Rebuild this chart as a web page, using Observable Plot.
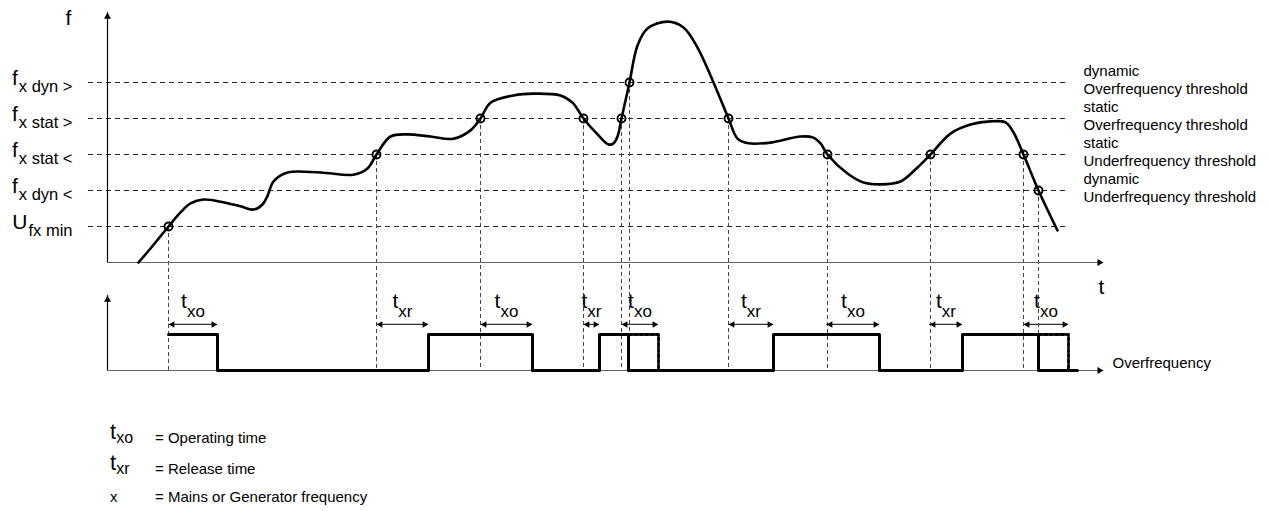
<!DOCTYPE html>
<html>
<head>
<meta charset="utf-8">
<script src="https://cdn.jsdelivr.net/npm/d3@7"></script>
<script src="https://cdn.jsdelivr.net/npm/@observablehq/plot@0.6"></script>
<style>
html,body{margin:0;padding:0;background:#fff;}
#wrap{position:relative;width:1268px;height:511px;font-family:"Liberation Sans",Arial,sans-serif;color:#000;overflow:hidden;}
#wrap svg{display:block;}
#legend{position:absolute;left:110px;top:421px;}
.row{height:30.5px;line-height:30.5px;font-size:15px;white-space:nowrap;display:flex;align-items:baseline;}
.sym{display:inline-block;width:45px;}
.sym .m{font-size:22px;position:relative;top:-4px;}
.sym .s{font-size:16px;}
</style>
</head>
<body>
<div id="wrap"><div id="chart"></div><div id="legend"></div></div>
<script>
// ---------------- data (time t, frequency level f) ----------------
const thresholdLevel = [5, 4, 3, 2, 1];
const thresholdSymbol = ["f", "f", "f", "f", "U"];
const thresholdSubscript = ["x dyn >", "x stat >", "x stat <", "x dyn <", "fx min"];
const thresholdNote = [
  "dynamic\nOverfrequency threshold",
  "static\nOverfrequency threshold",
  "static\nUnderfrequency threshold",
  "dynamic\nUnderfrequency threshold",
  ""
];
const thresholdExtent = [-19, 961];

// frequency trace f(t)
const curveT = [31,43,61,73,83,96,113,133,146,155,160,166,180,213,246,260,269,283,300,323,346,363,373,383,406,426,453,465,476,491,501,506,510,514,522,530,540,560,576,590,606,621,630,641,663,693,706,713,720,740,756,773,793,810,823,843,863,883,898,906,916,931,950];
const curveF = [0,0.39,1,1.39,1.64,1.75,1.69,1.56,1.47,1.61,1.85,2.25,2.5,2.5,2.44,2.61,3,3.5,3.56,3.5,3.44,3.67,4,4.44,4.64,4.69,4.64,4.44,4,3.53,3.28,3.31,3.5,4,5,6.03,6.5,6.69,6.53,5.97,5,4,3.44,3.31,3.33,3.5,3.47,3.31,3,2.47,2.22,2.17,2.25,2.64,3,3.58,3.83,3.92,3.89,3.61,3,2,0.89];

// threshold crossings (circles)
const crossT = [61, 269, 373, 476, 514, 522, 621, 720, 823, 916, 931];
const crossF = [1, 3, 4, 4, 4, 5, 4, 3, 3, 3, 2];

// overfrequency output signal (state changes)
const signalT = [61, 110, 321, 425, 492, 521, 666, 772, 855, 931, 970];
const signalS = [1, 0, 1, 0, 1, 0, 1, 0, 1, 0, 0];

// operating time that was cut short (dashed)
const pendingStart = [521, 931];
const pendingEnd = [551, 961];

// timing spans
const spanStart = [61, 269, 373, 476, 514, 621, 719, 822, 916];
const spanEnd = [110, 321, 425, 492, 551, 666, 772, 855, 961];
const spanSub = ["xo", "xr", "xo", "xr", "xo", "xr", "xo", "xr", "xo"];

// axes extents
const timeAxis = [0, 996];
const freqAxis = [0, 6.94];
const stateAxis = [-3, -0.92];
const stateLow = -3, stateHigh = -2, spanLevel = -1.72;

// legend
const legendSymbol = ["t", "t", "x"];
const legendSub = ["xo", "xr", ""];
const legendText = ["= Operating time", "= Release time", "= Mains or Generator frequency"];

// ---------------- build ----------------
const FONT = '"Liberation Sans", Arial, sans-serif';
const ctx = document.createElement("canvas").getContext("2d");
function tw(s, size) { ctx.font = `${size}px "Liberation Sans", Arial, sans-serif`; return ctx.measureText(s).width; }

const thresholds = thresholdLevel.map((f, i) => ({f, sym: thresholdSymbol[i], sub: thresholdSubscript[i], note: thresholdNote[i]}));
const curve = curveT.map((t, i) => ({t, f: curveF[i]}));
const crossings = crossT.map((t, i) => ({t, f: crossF[i]}));
const signal = signalT.map((t, i) => ({t, s: signalS[i]}));
const pending = pendingStart.flatMap((t, i) => [
  {id: i, t, y: stateHigh}, {id: i, t: pendingEnd[i], y: stateHigh}, {id: i, t: pendingEnd[i], y: stateLow}
]);
const spans = spanStart.map((s, i) => {
  const mid = (s + spanEnd[i]) / 2;
  const wMain = tw("t", 21), wSub = tw(spanSub[i], 17);
  return {start: s, end: spanEnd[i], sub: spanSub[i], x0: mid - (wMain + wSub) / 2, x1: mid - (wMain + wSub) / 2 + wMain};
});

const SUB_END = -35;
const chart = Plot.plot({
  width: 1268,
  height: 410,
  x: {domain: [0, 1000], range: [107, 1107], axis: null},
  y: {domain: [-4, 7.25], range: [406, 1], axis: null},
  style: {fontFamily: FONT, color: "#000", background: "#fff", overflow: "visible"},
  marks: [
    // threshold lines
    Plot.ruleY(thresholds, {y: "f", x1: thresholdExtent[0], x2: thresholdExtent[1], stroke: "#222", strokeWidth: 1, strokeDasharray: "5,4"}),
    // vertical guides from crossings
    Plot.ruleX(crossings, {x: "t", y1: "f", y2: stateLow, stroke: "#444", strokeWidth: 1, strokeDasharray: "4,3"}),
    // upper axes
    Plot.ruleX([timeAxis[0]], {y1: freqAxis[0], y2: freqAxis[1], stroke: "#000", strokeWidth: 1.2}),
    Plot.ruleY([freqAxis[0]], {x1: timeAxis[0], x2: timeAxis[1], stroke: "#666", strokeWidth: 1.2}),
    Plot.dot([{t: timeAxis[0], f: freqAxis[1]}], {x: "t", y: "f", symbol: "triangle", r: 2.6, fill: "#000", dy: 4}),
    Plot.dot([{t: timeAxis[1], f: freqAxis[0]}], {x: "t", y: "f", symbol: "triangle", r: 2.6, fill: "#000", rotate: 90, dx: -4}),
    // lower axes
    Plot.ruleX([timeAxis[0]], {y1: stateAxis[0], y2: stateAxis[1], stroke: "#000", strokeWidth: 1.2}),
    Plot.ruleY([stateAxis[0]], {x1: timeAxis[0], x2: timeAxis[1], stroke: "#666", strokeWidth: 1.2}),
    Plot.dot([{t: timeAxis[0], f: stateAxis[1]}], {x: "t", y: "f", symbol: "triangle", r: 2.6, fill: "#000", dy: 4}),
    Plot.dot([{t: timeAxis[1], f: stateAxis[0]}], {x: "t", y: "f", symbol: "triangle", r: 2.6, fill: "#000", rotate: 90, dx: -4}),
    // axis titles
    Plot.text([{t: timeAxis[0], f: freqAxis[1]}], {x: "t", y: "f", text: () => "f", fontSize: 21, textAnchor: "middle", dx: -39, dy: 6}),
    Plot.text([{t: timeAxis[1], f: freqAxis[0]}], {x: "t", y: "f", text: () => "t", fontSize: 21, textAnchor: "middle", dx: -2, dy: 25}),
    // frequency trace
    Plot.line(curve, {x: "t", y: "f", curve: "catmull-rom", stroke: "#000", strokeWidth: 2.6}),
    Plot.dot(crossings, {x: "t", y: "f", r: 4, stroke: "#000", strokeWidth: 1.9, fill: "none"}),
    // left labels
    Plot.text(thresholds, {x: () => SUB_END, y: "f", text: "sub", fontSize: 16.5, textAnchor: "end", lineAnchor: "bottom", dy: 9}),
    Plot.text(thresholds, {x: d => SUB_END - tw(d.sub, 16.5) - 1, y: "f", text: "sym", fontSize: 21, textAnchor: "end", lineAnchor: "bottom", dy: 2}),
    // right notes
    Plot.text(thresholds.filter(d => d.note), {x: () => thresholdExtent[1] + 15, y: "f", text: "note", fontSize: 15, textAnchor: "start", lineAnchor: "bottom", lineHeight: 1.15, dy: 11}),
    // output signal
    Plot.line(signal, {x: "t", y: d => d.s ? stateHigh : stateLow, curve: "step-after", stroke: "#000", strokeWidth: 3}),
    Plot.line(pending, {x: "t", y: "y", z: "id", stroke: "#000", strokeWidth: 2.8, strokeDasharray: "3.5,2"}),
    Plot.text([{t: timeAxis[1], f: stateAxis[0]}], {x: "t", y: "f", text: () => "Overfrequency", fontSize: 15, textAnchor: "start", lineAnchor: "bottom", dx: 9, dy: -3}),
    // timing spans
    Plot.ruleY(spans, {x1: "start", x2: "end", y: () => spanLevel, stroke: "#333", strokeWidth: 1.2}),
    Plot.dot(spans, {x: "start", y: () => spanLevel, symbol: "triangle", r: 2.4, fill: "#000", rotate: -90, dx: 4}),
    Plot.dot(spans, {x: "end", y: () => spanLevel, symbol: "triangle", r: 2.4, fill: "#000", rotate: 90, dx: -4}),
    Plot.text(spans, {x: "x0", y: () => spanLevel, text: () => "t", fontSize: 21, textAnchor: "start", lineAnchor: "bottom", dy: -16}),
    Plot.text(spans, {x: "x1", y: () => spanLevel, text: "sub", fontSize: 17, textAnchor: "start", lineAnchor: "bottom", dy: -7})
  ]
});
document.getElementById("chart").appendChild(chart);

// legend
const lg = document.getElementById("legend");
legendSymbol.forEach((s, i) => {
  const row = document.createElement("div");
  row.className = "row";
  const sym = document.createElement("span");
  sym.className = "sym";
  if (legendSub[i]) {
    sym.innerHTML = `<span class="m">${s}</span><span class="s">${legendSub[i]}</span>`;
  } else {
    sym.textContent = s;
  }
  const txt = document.createElement("span");
  txt.textContent = legendText[i];
  row.appendChild(sym);
  row.appendChild(txt);
  lg.appendChild(row);
});
</script>
</body>
</html>
